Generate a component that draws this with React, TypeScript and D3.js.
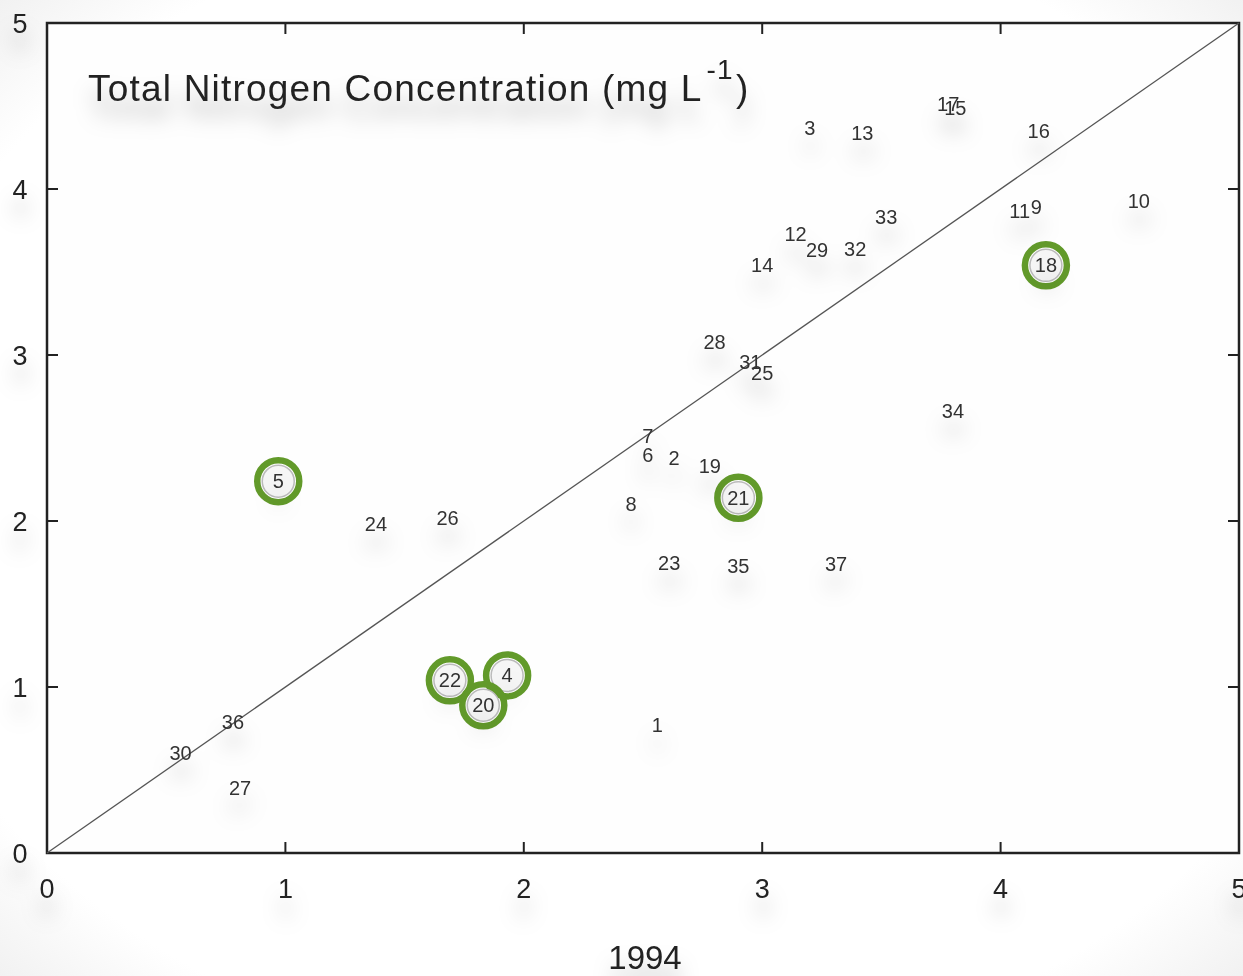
import { FC, useEffect, useRef } from "react";
import * as d3 from "d3";

// station id, 1994 value (x), later value (y)
const stations = [
  "1", "2", "3", "4", "5", "6", "7", "8", "9", "10", "11", "12", "13",
  "14", "15", "16", "17", "18", "19", "20", "21", "22", "23", "24", "25",
  "26", "27", "28", "29", "30", "31", "32", "33", "34", "35", "36", "37",
];
const x1994 = [
  2.56, 2.63, 3.2, 1.93, 0.97, 2.52, 2.52, 2.45, 4.15, 4.58, 4.08, 3.14, 3.42,
  3.0, 3.81, 4.16, 3.78, 4.19, 2.78, 1.83, 2.9, 1.69, 2.61, 1.38, 3.0,
  1.68, 0.81, 2.8, 3.23, 0.56, 2.95, 3.39, 3.52, 3.8, 2.9, 0.78, 3.31,
];
const yLater = [
  0.77, 2.38, 4.37, 1.07, 2.24, 2.4, 2.51, 2.1, 3.89, 3.93, 3.87, 3.73, 4.34,
  3.54, 4.49, 4.35, 4.51, 3.54, 2.33, 0.89, 2.14, 1.04, 1.75, 1.98, 2.89,
  2.02, 0.39, 3.08, 3.63, 0.6, 2.96, 3.64, 3.83, 2.66, 1.73, 0.79, 1.74,
];
const highlighted = ["5", "18", "21", "22", "4", "20"];
const ticks = [0, 1, 2, 3, 4, 5];

function draw(): SVGSVGElement {
  const width = 1243;
  const height = 976;
  const left = 47, right = 1239, top = 23, bottom = 853;

  const x = d3.scaleLinear().domain([0, 5]).range([left, right]);
  const y = d3.scaleLinear().domain([0, 5]).range([bottom, top]);

  const svg = d3
    .create("svg")
    .attr("width", width)
    .attr("height", height)
    .attr("viewBox", [0, 0, width, height])
    .attr("font-family", "Liberation Sans, Arial, sans-serif")
    .style("position", "absolute")
    .style("left", "0px")
    .style("top", "0px");

  const defs = svg.append("defs");
  const f = defs
    .append("filter")
    .attr("id", "shade")
    .attr("x", "-50%")
    .attr("y", "-50%")
    .attr("width", "200%")
    .attr("height", "300%");
  f.append("feDropShadow")
    .attr("dx", 0)
    .attr("dy", 18)
    .attr("stdDeviation", 10)
    .attr("flood-color", "#000")
    .attr("flood-opacity", 0.26);

  const vg = defs
    .append("radialGradient")
    .attr("id", "vig")
    .attr("cx", "50%")
    .attr("cy", "50%")
    .attr("r", "75%");
  vg.append("stop").attr("offset", "80%").attr("stop-color", "#fff");
  vg.append("stop").attr("offset", "100%").attr("stop-color", "#ececec");

  svg.append("rect").attr("width", width).attr("height", height).attr("fill", "url(#vig)");

  // frame
  svg
    .append("rect")
    .attr("x", left)
    .attr("y", top)
    .attr("width", right - left)
    .attr("height", bottom - top)
    .attr("fill", "#fefefe")
    .attr("stroke", "#222")
    .attr("stroke-width", 2.5);

  // inward ticks on all four sides
  const tk = svg.append("g").attr("stroke", "#222").attr("stroke-width", 2);
  ticks.slice(1, -1).forEach((t) => {
    tk.append("line").attr("x1", x(t)).attr("x2", x(t)).attr("y1", bottom).attr("y2", bottom - 11);
    tk.append("line").attr("x1", x(t)).attr("x2", x(t)).attr("y1", top).attr("y2", top + 11);
    tk.append("line").attr("y1", y(t)).attr("y2", y(t)).attr("x1", left).attr("x2", left + 11);
    tk.append("line").attr("y1", y(t)).attr("y2", y(t)).attr("x1", right).attr("x2", right - 11);
  });

  const labels = svg.append("g").attr("fill", "#222").attr("filter", "url(#shade)");
  labels
    .selectAll("text.xt")
    .data(ticks)
    .join("text")
    .attr("class", "xt")
    .attr("x", (d) => x(d))
    .attr("y", 898)
    .attr("text-anchor", "middle")
    .attr("font-size", 27)
    .text((d) => d);
  labels
    .selectAll("text.yt")
    .data(ticks)
    .join("text")
    .attr("class", "yt")
    .attr("x", 20)
    .attr("y", (d) => y(d) + 10)
    .attr("text-anchor", "middle")
    .attr("font-size", 27)
    .text((d) => d);
  labels
    .append("text")
    .attr("x", 645)
    .attr("y", 969)
    .attr("text-anchor", "middle")
    .attr("font-size", 33)
    .text("1994");

  const title = labels
    .append("text")
    .attr("x", 88)
    .attr("y", 101)
    .attr("font-size", 37)
    .attr("letter-spacing", 1.2)
    .text("Total Nitrogen Concentration (mg L");
  title.append("tspan").attr("dx", 4).attr("dy", -22).attr("font-size", 28).text("-1");
  title.append("tspan").attr("dx", 2).attr("dy", 22).text(")");

  // 1:1 line
  svg
    .append("line")
    .attr("x1", x(0))
    .attr("y1", y(0))
    .attr("x2", x(5))
    .attr("y2", y(5))
    .attr("stroke", "#555")
    .attr("stroke-width", 1.3);

  const pts = stations.map((s, i) => ({ id: s, x: x1994[i], y: yLater[i] }));

  const hi = svg
    .append("g")
    .selectAll("g")
    .data(pts.filter((d) => highlighted.includes(d.id)))
    .join("g")
    .attr("transform", (d) => `translate(${x(d.x)},${y(d.y)})`);
  hi.append("circle")
    .attr("r", 16)
    .attr("fill", "#f6f6f6")
    .attr("stroke", "#bbb")
    .attr("stroke-width", 1.5);

  svg
    .append("g")
    .attr("filter", "url(#shade)")
    .selectAll("text")
    .data(pts)
    .join("text")
    .attr("x", (d) => x(d.x))
    .attr("y", (d) => y(d.y) + 7)
    .attr("text-anchor", "middle")
    .attr("font-size", 20)
    .attr("fill", "#333")
    .text((d) => d.id);

  hi.append("circle")
    .attr("r", 21)
    .attr("fill", "none")
    .attr("stroke", "#629a2a")
    .attr("stroke-width", 6.5);

  return svg.node() as SVGSVGElement;
}

const App: FC = () => {
  const ref = useRef<HTMLDivElement>(null);

  useEffect(() => {
    const node = draw();
    if (ref.current) {
      ref.current.innerHTML = "";
      ref.current.appendChild(node);
    }
  });

  return <div ref={ref}></div>;
};

export default App;
